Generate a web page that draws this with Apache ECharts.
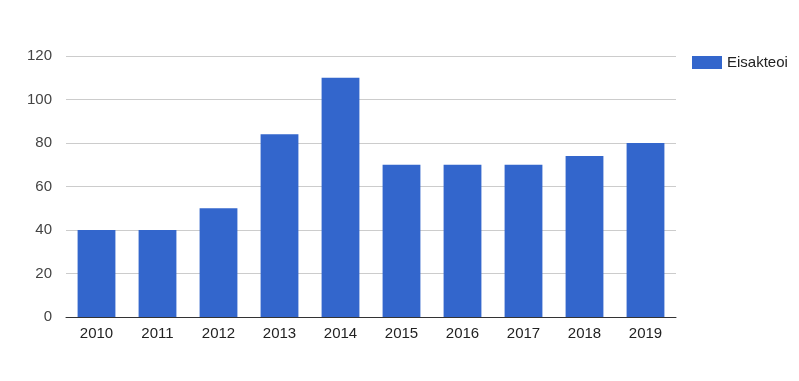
<!DOCTYPE html>
<html><head><meta charset="utf-8">
<script src="https://cdn.jsdelivr.net/npm/echarts@6/dist/echarts.min.js"></script>
<style>html,body{margin:0;padding:0;background:#fff}#c{width:799px;height:381px}</style>
</head><body><div id="c"></div>
<script>
const categories = ['2010','2011','2012','2013','2014','2015','2016','2017','2018','2019'];
const seriesName = 'Eisakteoi';
const values = [40, 40, 50, 84, 110, 70, 70, 70, 74, 80];
const yTicks = [0, 20, 40, 60, 80, 100, 120];

const chart = echarts.init(document.getElementById('c'), null, {renderer: 'canvas'});
chart.setOption({
  animation: false,
  textStyle: {fontFamily: 'Liberation Sans, Arial, sans-serif'},
  legend: {
    data: [seriesName],
    orient: 'vertical',
    left: 692, top: 55, padding: 0,
    itemWidth: 30, itemHeight: 13, itemGap: 5,
    icon: 'rect',
    textStyle: {fontSize: 15, color: '#222'}
  },
  grid: {left: 66, right: 123, top: 56, bottom: 64, containLabel: false},
  xAxis: {
    type: 'category', data: categories,
    axisLine: {lineStyle: {color: '#333', width: 1}},
    axisTick: {show: false},
    axisLabel: {fontSize: 15, color: '#222', margin: 9}
  },
  yAxis: {
    type: 'value', min: yTicks[0], max: yTicks[yTicks.length - 1], interval: 20,
    axisLine: {show: false}, axisTick: {show: false},
    axisLabel: {fontSize: 15, color: '#444', margin: 14},
    splitLine: {lineStyle: {color: '#cccccc', width: 1}}
  },
  series: [{
    name: seriesName, type: 'bar', data: values,
    barCategoryGap: '38%',
    itemStyle: {color: '#3366cc'}
  }]
});
</script></body></html>
